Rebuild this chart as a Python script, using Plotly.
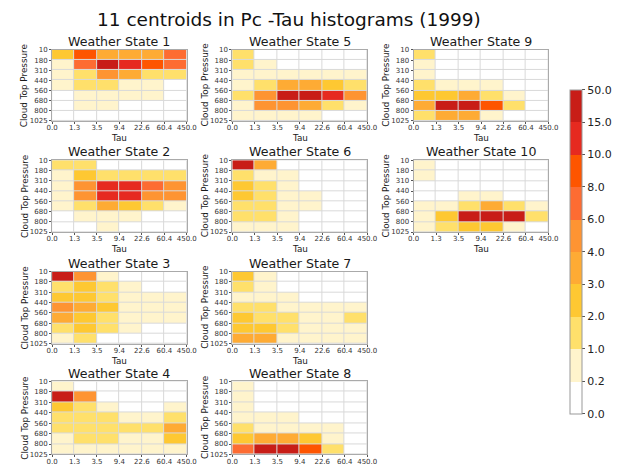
import numpy as np
import plotly.graph_objects as go

# ---------------- data ----------------
tau_labels = ["0.0", "1.3", "3.5", "9.4", "22.6", "60.4", "450.0"]
pc_labels = ["10", "180", "310", "440", "560", "680", "800", "1025"]

level_bounds = [0.0, 0.2, 1.0, 2.0, 3.0, 4.0, 6.0, 8.0, 10.0, 15.0, 50.0]
level_labels = ["0.0", "0.2", "1.0", "2.0", "3.0", "4.0", "6.0", "8.0", "10.0", "15.0", "50.0"]
level_colors = ["#ffffff", "#fff4cc", "#ffe06b", "#fec832", "#feab34",
                "#fe9432", "#fd6c32", "#fe5500", "#e62a20", "#c81d17"]

# rows: pressure bins top (10-180) to bottom (800-1025); cols: tau bins
ws1 = [[2.6, 9.1, 3.4, 3.6, 3.3, 7.2],
       [0.6, 6.8, 17.5, 13.0, 9.2, 7.0],
       [0.5, 1.6, 4.8, 3.5, 1.7, 1.5],
       [0.4, 1.5, 1.3, 0.8, 0.6, 0.1],
       [0.1, 0.6, 0.7, 0.5, 0.4, 0.1],
       [0.1, 0.5, 0.4, 0.1, 0.1, 0.0],
       [0.0, 0.1, 0.1, 0.0, 0.0, 0.0]]
ws2 = [[1.2, 1.4, 0.1, 0.1, 0.0, 0.0],
       [0.6, 2.4, 1.6, 1.5, 1.4, 1.3],
       [0.5, 4.5, 13.0, 12.5, 7.0, 5.0],
       [0.5, 4.6, 12.8, 12.0, 4.8, 4.5],
       [0.4, 1.6, 3.5, 2.6, 1.4, 0.7],
       [0.1, 0.5, 0.6, 0.4, 0.1, 0.1],
       [0.0, 0.1, 0.4, 0.1, 0.0, 0.0]]
ws3 = [[20.0, 5.0, 0.6, 0.1, 0.0, 0.0],
       [1.7, 2.4, 1.5, 0.4, 0.1, 0.1],
       [2.6, 2.5, 1.6, 0.6, 0.5, 0.4],
       [4.8, 3.6, 2.4, 0.7, 0.5, 0.4],
       [3.5, 2.6, 1.5, 0.6, 0.4, 0.4],
       [1.6, 2.5, 1.4, 0.5, 0.1, 0.1],
       [0.8, 1.3, 0.1, 0.0, 0.0, 0.0]]
ws4 = [[0.5, 0.1, 0.0, 0.0, 0.0, 0.0],
       [18.0, 5.0, 0.1, 0.0, 0.0, 0.1],
       [2.5, 1.5, 0.5, 0.1, 0.1, 0.5],
       [1.6, 1.5, 1.3, 0.6, 0.5, 1.4],
       [1.5, 1.6, 1.4, 1.2, 1.3, 3.6],
       [0.7, 1.4, 1.2, 0.5, 0.6, 2.5],
       [0.5, 0.6, 0.5, 0.4, 0.4, 0.6]]
ws5 = [[1.3, 0.1, 0.0, 0.0, 0.0, 0.0],
       [1.2, 0.5, 0.1, 0.0, 0.0, 0.0],
       [0.6, 0.6, 0.5, 0.5, 0.4, 0.4],
       [0.8, 1.7, 3.5, 3.4, 2.5, 1.5],
       [1.5, 5.2, 17.0, 16.0, 12.0, 4.8],
       [0.8, 4.5, 4.4, 3.6, 1.5, 0.6],
       [0.5, 0.6, 0.5, 0.4, 0.1, 0.0]]
ws6 = [[22.0, 3.6, 0.1, 0.0, 0.0, 0.0],
       [1.6, 0.8, 0.4, 0.1, 0.0, 0.0],
       [2.2, 1.4, 0.5, 0.1, 0.0, 0.0],
       [2.4, 1.5, 0.6, 0.3, 0.1, 0.0],
       [1.8, 1.5, 0.6, 0.3, 0.1, 0.0],
       [1.7, 1.4, 0.4, 0.1, 0.0, 0.0],
       [0.6, 0.6, 0.3, 0.1, 0.0, 0.0]]
ws7 = [[2.3, 0.6, 0.1, 0.0, 0.0, 0.0],
       [1.5, 0.6, 0.1, 0.0, 0.0, 0.0],
       [0.8, 0.6, 0.3, 0.1, 0.0, 0.0],
       [1.5, 1.4, 0.6, 0.4, 0.4, 0.4],
       [2.4, 1.6, 1.2, 0.6, 0.5, 1.2],
       [2.6, 2.2, 1.3, 0.6, 0.5, 0.5],
       [3.4, 3.2, 0.8, 0.7, 0.5, 0.5]]
ws8 = [[0.6, 0.1, 0.0, 0.0, 0.0, 0.0],
       [0.5, 0.1, 0.0, 0.0, 0.0, 0.0],
       [0.5, 0.1, 0.0, 0.0, 0.0, 0.0],
       [0.6, 0.4, 0.3, 0.1, 0.0, 0.0],
       [1.4, 0.6, 0.5, 0.4, 0.3, 0.1],
       [2.4, 3.5, 3.3, 2.5, 0.6, 0.1],
       [7.2, 19.0, 17.0, 9.0, 1.5, 0.1]]
ws9 = [[1.3, 0.1, 0.0, 0.0, 0.0, 0.0],
       [0.6, 0.1, 0.0, 0.0, 0.0, 0.0],
       [0.5, 0.1, 0.0, 0.0, 0.0, 0.0],
       [1.2, 0.5, 0.4, 0.3, 0.1, 0.0],
       [2.4, 2.5, 3.5, 1.5, 0.5, 0.1],
       [3.6, 18.0, 16.0, 9.2, 1.6, 0.1],
       [1.4, 3.7, 3.4, 0.6, 0.1, 0.0]]
ws10 = [[0.5, 0.1, 0.0, 0.0, 0.0, 0.0],
        [0.4, 0.1, 0.0, 0.0, 0.0, 0.0],
        [0.1, 0.0, 0.1, 0.1, 0.0, 0.0],
        [0.1, 0.1, 0.5, 0.6, 0.1, 0.0],
        [0.6, 0.8, 1.6, 3.5, 1.4, 0.6],
        [0.7, 2.6, 17.0, 20.0, 16.0, 1.5],
        [0.5, 1.5, 2.4, 2.2, 0.6, 0.1]]

states = [ws1, ws2, ws3, ws4, ws5, ws6, ws7, ws8, ws9, ws10]
state_titles = ["Weather State %d" % (i + 1) for i in range(len(states))]
main_title = "11 centroids in Pc -Tau histograms (1999)"

# ---------------- layout geometry (pixels) ----------------
W, H = 624, 468
col_x = [(47.3, 185.5), (232.3, 370.7), (418.3, 556.7)]
row_y = [(46.7, 119.0), (159.0, 232.0), (272.3, 345.7), (384.0, 458.3)]
FONT = "DejaVu Sans"

def fx(px):
    return px / W

def fy(py):
    return 1 - py / H

# discrete colorscale
cscale = []
n = len(level_colors)
for i, c in enumerate(level_colors):
    cscale.append([i / n, c])
    cscale.append([(i + 1) / n, c])

fig = go.Figure()
annotations = []
layout_axes = {}

for k, vals in enumerate(states):
    col = k // 4
    row = k % 4
    arr = np.array(vals, dtype=float)
    lev = np.digitize(arr, level_bounds[1:-1]) + 0.5
    ax = k + 1
    xn = "x" if ax == 1 else "x%d" % ax
    yn = "y" if ax == 1 else "y%d" % ax
    fig.add_trace(go.Heatmap(
        z=lev, x=np.arange(6) + 0.5, y=np.arange(7) + 0.5,
        customdata=arr, coloraxis="coloraxis", xgap=1, ygap=1,
        xaxis=xn, yaxis=yn,
        hovertemplate="%{customdata:.1f}<extra></extra>"))
    x0, x1 = col_x[col]
    y0, y1 = row_y[row]
    common = dict(showline=True, mirror=True, linecolor="#aaaaaa", linewidth=1,
                  showgrid=False, zeroline=False, ticks="outside", ticklen=2,
                  tickwidth=1, tickcolor="#555555",
                  tickfont=dict(size=7, color="#333333", family=FONT),
                  fixedrange=True)
    layout_axes["xaxis" if ax == 1 else "xaxis%d" % ax] = dict(
        domain=[fx(x0), fx(x1)], anchor=yn, range=[0, 6], ticklabelstandoff=-2,
        tickmode="array", tickvals=list(range(7)), ticktext=tau_labels, **common)
    layout_axes["yaxis" if ax == 1 else "yaxis%d" % ax] = dict(
        domain=[fy(y1), fy(y0)], anchor=xn, range=[7, 0],
        tickmode="array", tickvals=list(range(8)), ticktext=pc_labels, **common)
    # panel title
    annotations.append(dict(text=state_titles[k], x=fx((x0 + x1) / 2), y=fy(y0 - 8.5),
                            xref="paper", yref="paper", showarrow=False,
                            xanchor="center", yanchor="middle",
                            font=dict(size=12.6, color="#1a1a1a", family=FONT)))
    # y axis label
    annotations.append(dict(text="Cloud Top Pressure", x=fx(x0 - 28), y=fy((y0 + y1) / 2),
                            xref="paper", yref="paper", showarrow=False, textangle=-90,
                            xanchor="center", yanchor="middle",
                            font=dict(size=8.8, color="#1a1a1a", family=FONT)))
    # x axis label (the bottom row's label falls below the picture in the original)
    if y1 + 22 < H:
        annotations.append(dict(text="Tau", x=fx((x0 + x1) / 2), y=fy(y1 + 17.5),
                                xref="paper", yref="paper", showarrow=False,
                                xanchor="center", yanchor="middle",
                                font=dict(size=8.8, color="#1a1a1a", family=FONT)))

annotations.append(dict(text=main_title, x=fx(290), y=fy(15.5), xref="paper", yref="paper",
                        showarrow=False, xanchor="center", yanchor="middle",
                        font=dict(size=18.5, color="#111111", family=FONT)))

fig.update_layout(
    width=W, height=H, margin=dict(l=0, r=0, t=0, b=0),
    paper_bgcolor="white", plot_bgcolor="#d9d9d9",
    font=dict(family=FONT),
    showlegend=False,
    annotations=annotations,
    coloraxis=dict(
        cmin=0, cmax=10, colorscale=cscale,
        colorbar=dict(
            x=fx(579), xanchor="left", xpad=0, ypad=0,
            y=fy(252), yanchor="middle", len=330 / H, lenmode="fraction",
            thickness=12, thicknessmode="pixels",
            tickmode="array", tickvals=list(range(11)), ticktext=level_labels,
            ticks="outside", ticklen=3, tickcolor="#555555",
            tickfont=dict(size=11, color="#222222", family=FONT),
            outlinecolor="#999999", outlinewidth=1)),
    **layout_axes)

fig.write_html("out.html")
